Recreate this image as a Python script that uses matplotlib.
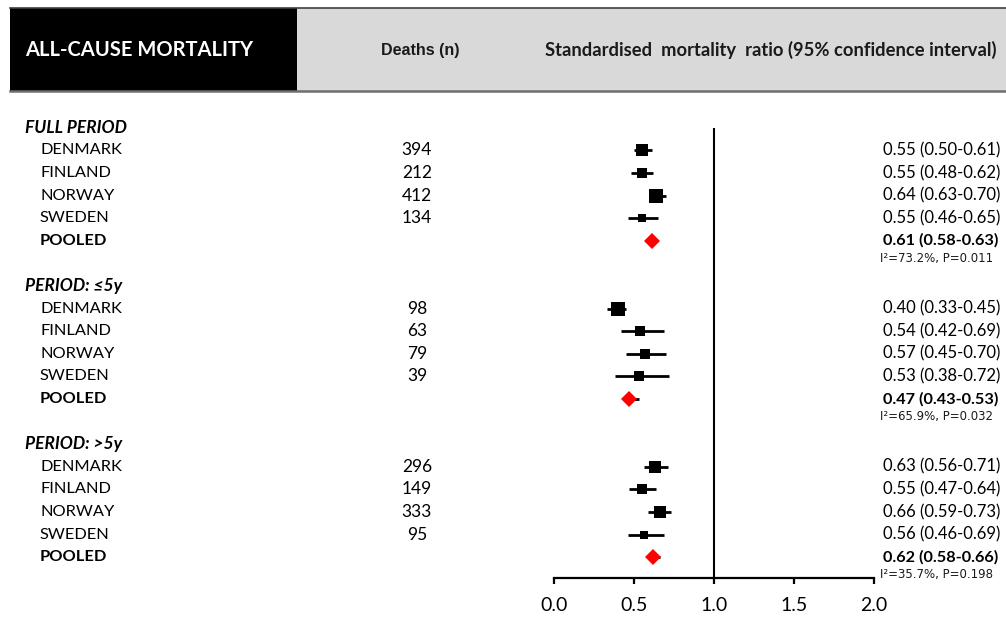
import matplotlib
matplotlib.use('Agg')
import matplotlib.pyplot as plt
from matplotlib.patches import Rectangle
from matplotlib.transforms import blended_transform_factory

# ---------------- data ----------------
sections = ['FULL PERIOD', 'PERIOD: \u22645y', 'PERIOD: >5y']
countries = ['DENMARK', 'FINLAND', 'NORWAY', 'SWEDEN']
deaths = [[394, 212, 412, 134],
          [98, 63, 79, 39],
          [296, 149, 333, 95]]
smr = [[0.55, 0.55, 0.64, 0.55],
       [0.40, 0.54, 0.57, 0.53],
       [0.63, 0.55, 0.66, 0.56]]
ci_lo = [[0.50, 0.48, 0.63, 0.46],
         [0.33, 0.42, 0.45, 0.38],
         [0.56, 0.47, 0.59, 0.46]]
ci_hi = [[0.61, 0.62, 0.70, 0.65],
         [0.45, 0.69, 0.70, 0.72],
         [0.71, 0.64, 0.73, 0.69]]
weights = [[0.93, 0.79, 1.00, 0.57],
           [1.00, 0.71, 0.79, 0.71],
           [0.93, 0.79, 0.93, 0.57]]
pooled = [0.61, 0.47, 0.62]
pooled_lo = [0.58, 0.43, 0.58]
pooled_hi = [0.63, 0.53, 0.66]
i2 = [73.2, 65.9, 35.7]
pvals = ['0.011', '0.032', '0.198']
xticks = [0.0, 0.5, 1.0, 1.5, 2.0]

# ---------------- layout ----------------
W, H = 1006, 621
fig = plt.figure(figsize=(W / 100, H / 100), dpi=100)
CAL = ['Lato', 'DejaVu Sans']
ARI = ['Liberation Sans', 'DejaVu Sans']


def fx(px):
    return px / W


def fy(py):
    return 1 - py / H


row0, step = 127.8, 22.6
ax_top, ax_bot = 128, 578
ax = fig.add_axes([fx(554), fy(ax_bot), fx(874) - fx(554), (ax_bot - ax_top) / H])
ax.set_xlim(0, 2)
ax.set_ylim((ax_bot - row0) / step, (ax_top - row0) / step)
for s in ['top', 'left', 'right']:
    ax.spines[s].set_visible(False)
ax.spines['bottom'].set_linewidth(1.6)
ax.set_yticks([])
ax.set_xticks(xticks)
ax.set_xticklabels([f'{t:.1f}' for t in xticks], family=CAL, fontsize=14)
ax.tick_params(axis='x', direction='out', length=4.5, width=1.6, pad=9.5)
ax.patch.set_alpha(0)
ax.axvline(1.0, color='black', lw=1.5, zorder=1)

tr = blended_transform_factory(fig.transFigure, ax.transData)

# header
fig.patches.append(Rectangle((fx(297), fy(91)), 1 - fx(297), fy(8) - fy(91),
                             transform=fig.transFigure, facecolor='#d9d9d9',
                             edgecolor='none', zorder=0))
fig.patches.append(Rectangle((fx(10), fy(91)), fx(297) - fx(10), fy(8) - fy(91),
                             transform=fig.transFigure, facecolor='black',
                             edgecolor='none', zorder=1))
fig.add_artist(plt.Line2D([fx(10), 1], [fy(8), fy(8)], transform=fig.transFigure,
                          color='#404040', lw=1.2))
fig.add_artist(plt.Line2D([fx(10), 1], [fy(91), fy(91)], transform=fig.transFigure,
                          color='#6e6e6e', lw=1.8))
fig.text(fx(25), fy(50), 'ALL-CAUSE MORTALITY', color='white', fontsize=14.5,
         fontweight='bold', family=CAL, va='center', ha='left')
fig.text(fx(420), fy(50), 'Deaths (n)', color='#1a1a1a', fontsize=11.5,
         fontweight='bold', family=ARI, va='center', ha='center')
fig.text(fx(545), fy(50), 'Standardised  mortality  ratio (95% confidence interval)',
         color='#1a1a1a', fontsize=13.2, fontweight='bold', family=CAL,
         va='center', ha='left')

for k, sec in enumerate(sections):
    base = 7 * k
    ax.text(fx(25), base, sec, transform=tr, family=CAL, fontsize=12.5,
            fontweight='bold', fontstyle='italic', va='center', ha='left')
    for i, c in enumerate(countries):
        r = base + 1 + i
        ax.text(fx(40), r, c, transform=tr, family=CAL, fontsize=11.8,
                va='center', ha='left')
        ax.text(fx(417), r, str(deaths[k][i]), transform=tr, family=CAL,
                fontsize=12.5, va='center', ha='center')
        ax.text(fx(883), r, f'{smr[k][i]:.2f} ({ci_lo[k][i]:.2f}-{ci_hi[k][i]:.2f})',
                transform=tr, family=CAL, fontsize=12.0, va='center', ha='left')
        ax.plot([ci_lo[k][i], ci_hi[k][i]], [r, r], color='black', lw=2.0,
                solid_capstyle='butt', zorder=3)
        ax.plot([smr[k][i]], [r], marker='s', color='black',
                markersize=10.0 * weights[k][i], markeredgewidth=0, zorder=4)
    r = base + 5
    ax.text(fx(40), r, 'POOLED', transform=tr, family=CAL, fontsize=11.8,
            fontweight='bold', va='center', ha='left')
    ax.text(fx(883), r, f'{pooled[k]:.2f} ({pooled_lo[k]:.2f}-{pooled_hi[k]:.2f})',
            transform=tr, family=CAL, fontsize=11.7, fontweight='bold',
            va='center', ha='left')
    ax.plot([pooled_lo[k], pooled_hi[k]], [r, r], color='black', lw=2.0,
            solid_capstyle='butt', zorder=3)
    ax.plot([pooled[k]], [r], marker='D', color='#ff0000', markersize=8.6,
            markeredgewidth=0, zorder=5)
    ax.text(fx(880), base + 5.78, f'I\u00b2={i2[k]:.1f}%, P={pvals[k]}', transform=tr,
            family=['DejaVu Sans'], fontsize=8.5, color='#1a1a1a',
            va='center', ha='left')

fig.savefig('out.png', dpi=100, facecolor='white')
